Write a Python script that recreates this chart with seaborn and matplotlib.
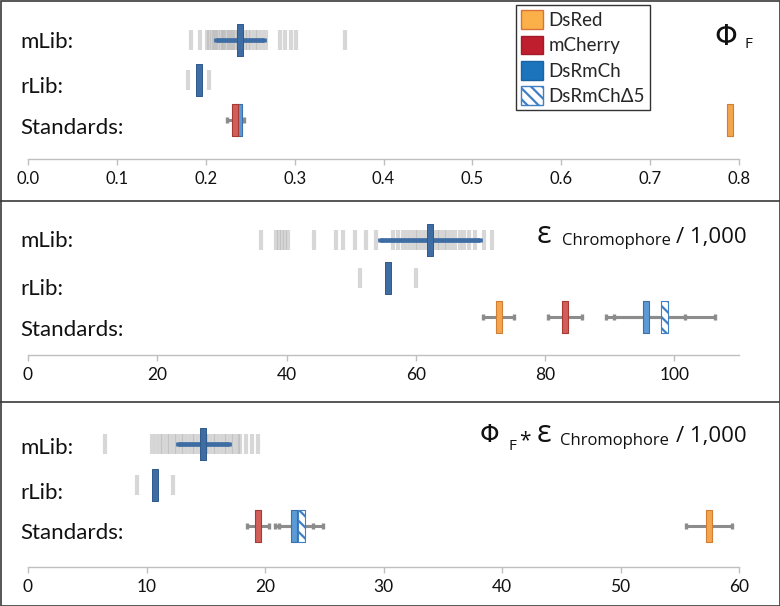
import numpy as np
import pandas as pd
import matplotlib
matplotlib.use("Agg")
import matplotlib.pyplot as plt
from matplotlib.patches import Patch, Rectangle
from matplotlib.lines import Line2D
import seaborn as sns

# ------------------------------------------------------------------ data
row_names = ["mLib:", "rLib:", "Standards:"]
std_names = ["DsRed", "mCherry", "DsRmCh", "DsRmChΔ5"]

# Quantum yield (Phi_F)
phi_mlib = [0.183, 0.194, 0.201, 0.204, 0.207, 0.209, 0.212, 0.214, 0.217,
            0.219, 0.221, 0.224, 0.226, 0.228, 0.231, 0.233, 0.236, 0.238,
            0.241, 0.244, 0.247, 0.251, 0.255, 0.259, 0.263, 0.268, 0.283,
            0.289, 0.296, 0.302, 0.357]
phi_mlib_mean = 0.238
phi_mlib_err = 0.027
phi_rlib = [0.180, 0.204]
phi_rlib_mean = 0.192
phi_std = [0.790, 0.233, 0.237, np.nan]
phi_std_err = [np.nan, 0.0095, np.nan, np.nan]
phi_ticks = [0.0, 0.1, 0.2, 0.3, 0.4, 0.5, 0.6, 0.7, 0.8]
phi_ticklabels = ["0.0", "0.1", "0.2", "0.3", "0.4", "0.5", "0.6", "0.7", "0.8"]

# Extinction coefficient / 1000
eps_mlib = [36.0, 38.3, 38.8, 39.3, 39.8, 40.3, 44.3, 47.6, 48.7, 50.6, 52.3,
            53.8, 56.5, 57.3, 58.0, 58.6, 59.2, 59.8, 60.4, 61.0, 61.5, 62.1,
            62.6, 63.2, 63.8, 64.3, 64.9, 65.5, 66.1, 66.8, 67.5, 68.3, 69.2,
            70.6, 71.8]
eps_mlib_mean = 62.2
eps_mlib_err = 7.8
eps_rlib = [51.4, 60.0]
eps_rlib_mean = 55.7
eps_std = [72.8, 83.1, 95.6, 98.5]
eps_std_err = [2.4, 2.6, 6.1, 7.8]
eps_ticks = [0, 20, 40, 60, 80, 100]
eps_ticklabels = ["0", "20", "40", "60", "80", "100"]

# Brightness (Phi_F * eps / 1000)
br_mlib = [6.5, 10.5, 10.8, 11.1, 11.4, 11.7, 12.0, 12.3, 12.6, 12.9, 13.2,
           13.5, 13.8, 14.1, 14.4, 14.7, 15.0, 15.3, 15.6, 15.9, 16.2, 16.5,
           16.8, 17.1, 17.4, 17.7, 17.9, 18.4, 18.9, 19.4]
br_mlib_mean = 14.8
br_mlib_err = 2.15
br_rlib = [9.2, 12.2]
br_rlib_mean = 10.7
br_std = [57.5, 19.4, 22.45, 23.05]
br_std_err = [1.95, 0.9, 1.6, 1.85]
br_ticks = [0, 10, 20, 30, 40, 50, 60]
br_ticklabels = ["0", "10", "20", "30", "40", "50", "60"]

# ------------------------------------------------------------------ style
sns.set_style("white")
plt.rcParams["font.family"] = ["Lato", "DejaVu Sans"]
plt.rcParams["hatch.color"] = "#3F7FC4"
plt.rcParams["hatch.linewidth"] = 1.6

W, H = 780, 606
fig = plt.figure(figsize=(W / 100, H / 100), dpi=100)
fig.patch.set_facecolor("white")

LIB_GRAY = "#B0B0B0"
LIB_BLUE = "#3E6DA4"
LIB_BLUE_EDGE = "#2F5A8C"
ERR_GRAY = "#8C8C8C"
AXIS_GRAY = "#BFBFBF"
TEXT = "#111111"

std_face = {"DsRed": "#F4A54E", "mCherry": "#D25E59", "DsRmCh": "#5B9BD5",
            "DsRmChΔ5": "white"}
std_edge = {"DsRed": "#D17F35", "mCherry": "#A83A36", "DsRmCh": "#3F6FA5",
            "DsRmChΔ5": "#3F7FC4"}
std_hatch = {"DsRed": None, "mCherry": None, "DsRmCh": None,
             "DsRmChΔ5": "\\\\\\"}
draw_order = ["DsRmCh", "DsRmChΔ5", "DsRed", "mCherry"]

RECT = [(-3.5, -16), (3.5, -16), (3.5, 16), (-3.5, 16), (-3.5, -16)]


def ax_at(left, top, right, bottom):
    return fig.add_axes([left / W, 1 - bottom / H, (right - left) / W,
                         (bottom - top) / H])


def draw_panel(ax, top, bottom, rows, mlib, mlib_mean, mlib_err, rlib,
               rlib_mean, std, std_err, xlim, ticks, ticklabels, tfs):
    ax.set_facecolor("none")
    lib = pd.DataFrame({"x": list(mlib) + list(rlib),
                        "y": [rows[0]] * len(mlib) + [rows[1]] * len(rlib)})
    sns.scatterplot(data=lib, x="x", y="y", marker="|", s=207, linewidth=3.0,
                    color=LIB_GRAY, alpha=0.5, ax=ax, legend=False, zorder=2)
    ax.errorbar(mlib_mean, rows[0], xerr=mlib_err, fmt="none",
                ecolor=LIB_BLUE, elinewidth=3.4, capsize=1.6, capthick=3.4,
                zorder=3)
    sns.scatterplot(x=[mlib_mean, rlib_mean], y=[rows[0], rows[1]],
                    marker=RECT, s=530, color=LIB_BLUE,
                    edgecolor=LIB_BLUE_EDGE, linewidth=0.7, ax=ax,
                    legend=False, zorder=4)
    for name, v, e in zip(std_names, std, std_err):
        if not np.isnan(v) and not np.isnan(e):
            ax.errorbar(v, rows[2], xerr=e, fmt="none", ecolor=ERR_GRAY,
                        elinewidth=2.2, capsize=2.2, capthick=2.4, zorder=3)
    vals = dict(zip(std_names, std))
    for name in draw_order:
        v = vals[name]
        if np.isnan(v):
            continue
        kw = {}
        if std_hatch[name]:
            kw["hatch"] = std_hatch[name]
        sns.scatterplot(x=[v], y=[rows[2]], marker=RECT, s=530,
                        color=std_face[name], edgecolor=std_edge[name],
                        linewidth=0.8, ax=ax, legend=False, zorder=5, **kw)
    ax.set_xlim(*xlim)
    ax.set_ylim(bottom, top)
    ax.set_xticks(ticks)
    ax.set_xticklabels(ticklabels, fontsize=tfs, color=TEXT)
    ax.set_yticks([])
    ax.set_xlabel("")
    ax.set_ylabel("")
    for s in ["left", "right", "top"]:
        ax.spines[s].set_visible(False)
    ax.spines["bottom"].set_color(AXIS_GRAY)
    ax.spines["bottom"].set_linewidth(1.0)
    ax.tick_params(axis="x", direction="out", length=4.5, width=1.0,
                   color=AXIS_GRAY, pad=4, bottom=True)


ax1 = ax_at(28, 5, 739, 159)
draw_panel(ax1, 5, 159, [40, 80, 120], phi_mlib, phi_mlib_mean, phi_mlib_err,
           phi_rlib, phi_rlib_mean, phi_std, phi_std_err, (0, 0.8),
           phi_ticks, phi_ticklabels, 12)
ax2 = ax_at(28, 205, 739, 355)
draw_panel(ax2, 205, 355, [240, 278, 317], eps_mlib, eps_mlib_mean,
           eps_mlib_err, eps_rlib, eps_rlib_mean, eps_std, eps_std_err,
           (0, 110), eps_ticks, eps_ticklabels, 12.5)
ax3 = ax_at(28, 405, 739, 567)
draw_panel(ax3, 405, 567, [444, 485, 526], br_mlib, br_mlib_mean, br_mlib_err,
           br_rlib, br_rlib_mean, br_std, br_std_err, (0, 60), br_ticks,
           br_ticklabels, 12.5)

# row labels
label_y = [[42, 87, 128], [241, 289, 330], [448, 493, 533]]
for ys in label_y:
    for name, y in zip(row_names, ys):
        fig.text(20 / W, 1 - y / H, name, ha="left", va="center",
                 fontsize=16, color=TEXT)


def ftext(x, y, s, size, fam=("Open Sans", "DejaVu Sans"), **kw):
    fig.text(x / W, 1 - y / H, s, ha="left", va="baseline", fontsize=size,
             color=TEXT, family=list(fam), **kw)


PHI_FAM = ("DejaVu Sans",)
# panel titles
ftext(714, 45, "Φ", 21, PHI_FAM)
ftext(744, 48, "F", 11)

ftext(537, 243, "ε", 22)
ftext(562, 245, "Chromophore", 12)
ftext(676, 243, "/ 1,000", 16)

ftext(480, 442, "Φ", 18, PHI_FAM)
ftext(509, 450, "F", 11)
ftext(519, 446, "*", 15)
ftext(537, 442, "ε", 22)
ftext(560, 445, "Chromophore", 12)
ftext(676, 442, "/ 1,000", 16)

# legend
handles = [Patch(facecolor="#FBB04A", edgecolor="#D9723A", label="DsRed"),
           Patch(facecolor="#BE1E2D", edgecolor="#A51A28", label="mCherry"),
           Patch(facecolor="#1C75BC", edgecolor="#1A64A3", label="DsRmCh"),
           Patch(facecolor="white", edgecolor="#3F7FC4", hatch="\\\\\\",
                 label="DsRmChΔ5")]
leg = fig.legend(handles=handles, loc="upper left",
                 bbox_to_anchor=(516 / W, 1 - 5 / H), borderaxespad=0,
                 fontsize=13.5, frameon=True, fancybox=False, framealpha=1,
                 handlelength=1.15, handleheight=1.15, labelspacing=0.36,
                 handletextpad=0.3, borderpad=0.28)
leg.get_frame().set_edgecolor("#333333")
leg.get_frame().set_linewidth(1.0)

# panel frames
fig.patches.append(Rectangle((0.5, 0.5), W - 1, H - 1, transform=None,
                             fill=False, edgecolor="#3a3a3a", linewidth=1.2))
for yy in [201, 402]:
    fig.lines.append(Line2D([0, W], [H - yy, H - yy], transform=None,
                            color="#3a3a3a", linewidth=1.2))

fig.savefig("out.png", dpi=100)
